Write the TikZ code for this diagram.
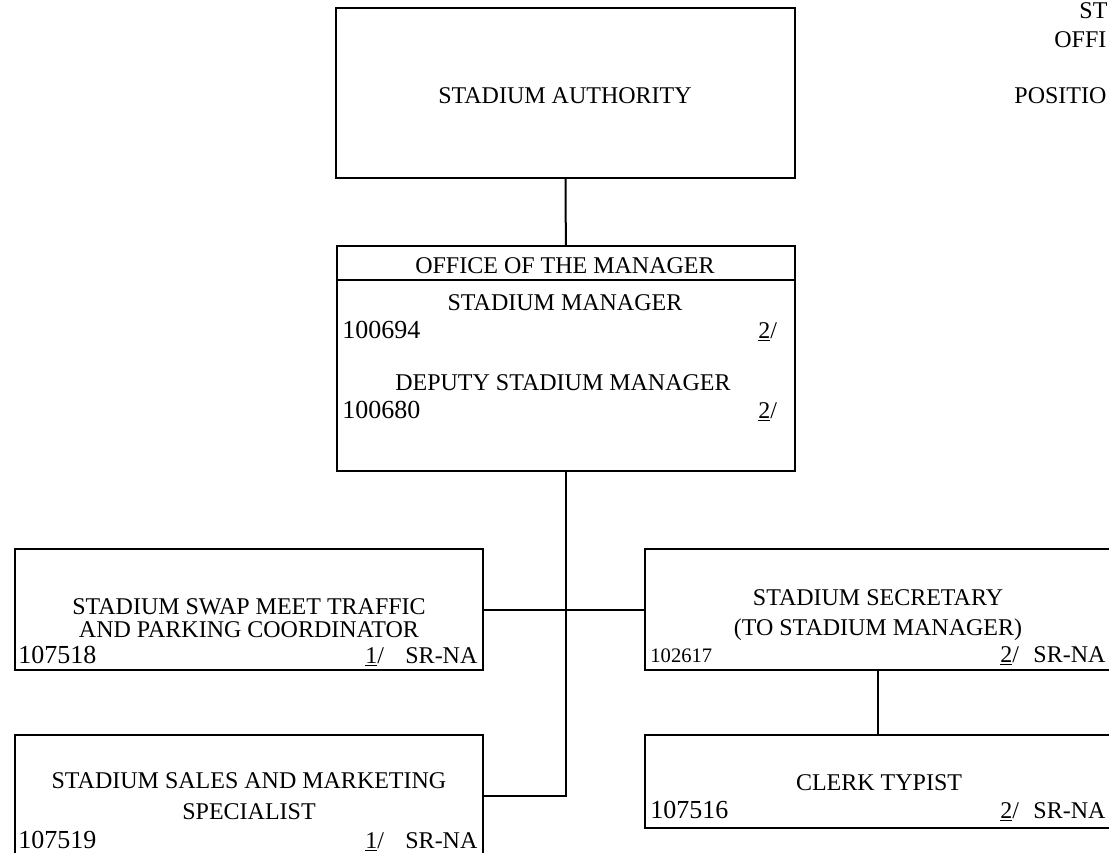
\documentclass[tikz,border=0pt]{standalone}
\usepackage{fontspec}
\setmainfont{Liberation Serif}
\usetikzlibrary{positioning}

\begin{document}
\begin{tikzpicture}[
  x=0.5pt, y=-0.5pt,
  font=\fontsize{12}{14}\selectfont,
  box/.style={draw=black, line width=1pt, inner sep=0pt},
  ln/.style={line width=1pt},
  ttl/.style={inner sep=0pt, anchor=base},
  num/.style={inner sep=0pt, anchor=base west, font=\fontsize{13}{14}\selectfont},
  grd/.style={inner sep=0pt, anchor=base west},
]
\useasboundingbox[fill=white] (0,0) rectangle (1109,852);
\clip (0,0) rectangle (1109,852);
\node[box, minimum width=229.5pt, minimum height=85pt] (auth) at (565.5,93) {};
\node[box, minimum width=229pt, minimum height=112.5pt] (office) at (566,358.5) {};
\node[box, minimum width=234pt, minimum height=60.5pt] (swap) at (249,609.5) {};
\node[box, minimum width=234pt, minimum height=61pt] (sales) at (249,796) {};
\node[box, minimum width=233pt, minimum height=60.5pt] (secr) at (878,609.5) {};
\node[box, minimum width=233pt, minimum height=46.5pt] (clerk) at (878,781.5) {};
\draw[ln] ([yshift=-17.5pt]office.north west) -- ([yshift=-17.5pt]office.north east);
\draw[ln] (auth) -- (office);
\draw[ln] (office.south) |- (sales.east);
\draw[ln] (swap) -- (secr);
\draw[ln] (secr) -- (clerk);
\node[ttl] (authT) at (565,103) {STADIUM AUTHORITY};
\node[ttl] (officeT) at (565,273) {OFFICE OF THE MANAGER};
\node[ttl] (mgrT) at (565,310) {STADIUM MANAGER};
\node[num] (mgrN) at (342,338) {100694};
\node[ttl] (depT) at (563,390) {DEPUTY STADIUM MANAGER};
\node[num] (depN) at (342,418) {100680};
\node[ttl] (swapT1) at (249,614) {STADIUM SWAP MEET TRAFFIC};
\node[ttl] (swapT2) at (249,637) {AND PARKING COORDINATOR};
\node[num] (swapN) at (18,663) {107518};
\node[ttl] (salesT1) at (249,788) {STADIUM SALES AND MARKETING};
\node[ttl] (salesT2) at (249,819) {SPECIALIST};
\node[num] (salesN) at (18,848) {107519};
\node[ttl] (secrT1) at (878,605) {STADIUM SECRETARY};
\node[ttl] (secrT2) at (878,635) {(TO STADIUM MANAGER)};
\node[num, font=\fontsize{10.3}{12}\selectfont] (secrN) at (650,662) {102617};
\node[ttl] (clerkT) at (879,790) {CLERK TYPIST};
\node[num] (clerkN) at (650,818) {107516};
\foreach \n/\g/\x/\y in {mgrG/2/758/338, depG/2/758/418, swapG/1/365/663,
    salesG/1/365/848, secrG/2/1000/662, clerkG/2/1000/818} {
  \node[grd] (\n) at (\x,\y) {\underline{\g}/};
}
\foreach \n/\x/\y in {swapS/405/663, salesS/405/848, secrS/1033/662, clerkS/1033/818} {
  \node[grd] (\n) at (\x,\y) {SR-NA};
}
\node[grd] (hdA) at (1079,18) {ST};
\node[grd] (hdB) at (1054,47) {OFFI};
\node[grd] (hdC) at (1014,103) {POSITIO};
\end{tikzpicture}
\end{document}
